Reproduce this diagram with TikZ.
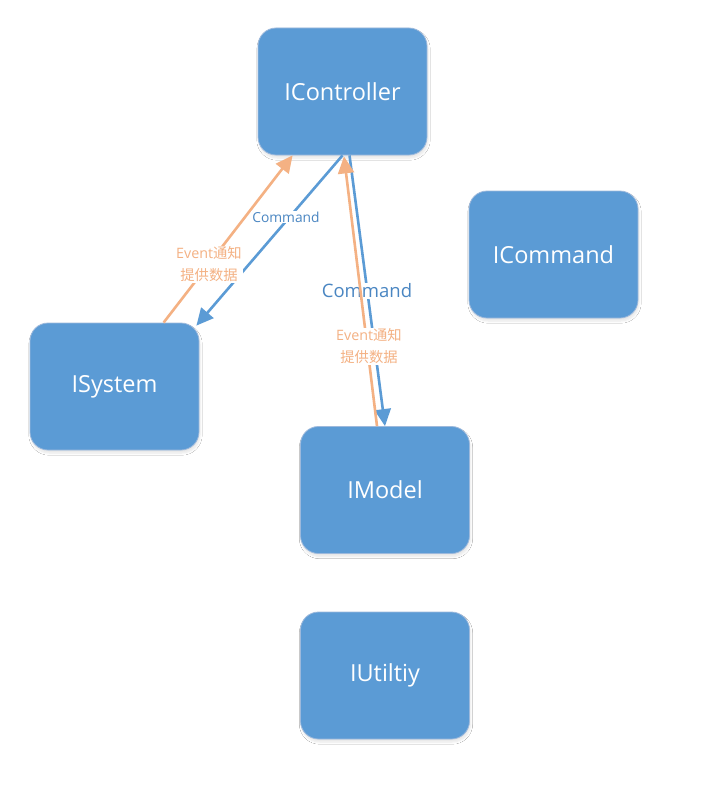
\documentclass[tikz,border=0pt]{standalone}
\usepackage{fontspec}
\setmainfont{Open Sans}
\newfontfamily\cjk{Noto Sans CJK SC}
\usetikzlibrary{arrows.meta,calc,shadows.blur}
\definecolor{boxblue}{HTML}{5B9BD5}
\definecolor{boxedge}{HTML}{9DB9DC}
\definecolor{arrorange}{HTML}{F4B183}
\definecolor{lblblue}{HTML}{4A86C2}
\tikzset{
  comp/.style={draw=boxedge, line width=0.8pt, fill=boxblue, rounded corners=18pt,
    minimum width=169pt, minimum height=127pt, text=white,
    font=\fontsize{23.5}{28}\selectfont,
    blur shadow={shadow xshift=1pt, shadow yshift=-3pt, shadow opacity=10, shadow blur steps=6}},
  bluearr/.style={draw=boxblue, line width=2.6pt, -{Triangle[length=17pt,width=16pt]}},
  orarr/.style={draw=arrorange, line width=2.6pt, -{Triangle[length=17pt,width=16pt]}},
  bluelbl/.style={fill=white, text=lblblue, inner sep=1pt},
  orlbl/.style={fill=white, text=arrorange, inner sep=1pt, align=center,
    font=\fontsize{14.3}{22}\selectfont},
}
\begin{document}
\begin{tikzpicture}[x=1pt,y=-1pt]
\useasboundingbox[fill=white] (0,0) rectangle (705,808);
\node[comp] (ctrl) at (342.5,91.5) {IController};
\node[comp] (cmd) at (553.5,254.5) {ICommand};
\node[comp] (sys) at (114.5,386.5) {ISystem};
\node[comp] (model) at (385,490) {IModel};
\node[comp] (util) at (385,675.5) {IUtiltiy};
% left pair
\coordinate (c1s) at ($(sys.north west)+(134,0)$);
\coordinate (c1e) at ($(ctrl.south west)+(35,0)$);
\coordinate (c2e) at ($(sys.north east)+(-3,3)$);
\draw[orarr] (c1s) -- (c1e);
\draw[bluearr] (ctrl.south) -- (c2e);
\node[bluelbl, font=\fontsize{13.8}{16}\selectfont] (lc1) at (286,217) {Command};
\node[orlbl] (le1) at (209,264.5) {Event{\cjk 通知}\\{\cjk 提供数据}};
% right pair
\coordinate (c3s) at ($(ctrl.south)+(7,0)$);
\draw[bluearr] (c3s) -- (model.north);
\node[bluelbl, font=\fontsize{18.5}{21}\selectfont] (lc2) at (367,291) {Command};
\coordinate (c4s) at ($(model.north)+(-8,0)$);
\coordinate (c4e) at ($(ctrl.south)+(1.5,1)$);
\draw[orarr] (c4s) -- (c4e);
\node[orlbl] (le2) at (369,346.5) {Event{\cjk 通知}\\{\cjk 提供数据}};
\end{tikzpicture}
\end{document}
